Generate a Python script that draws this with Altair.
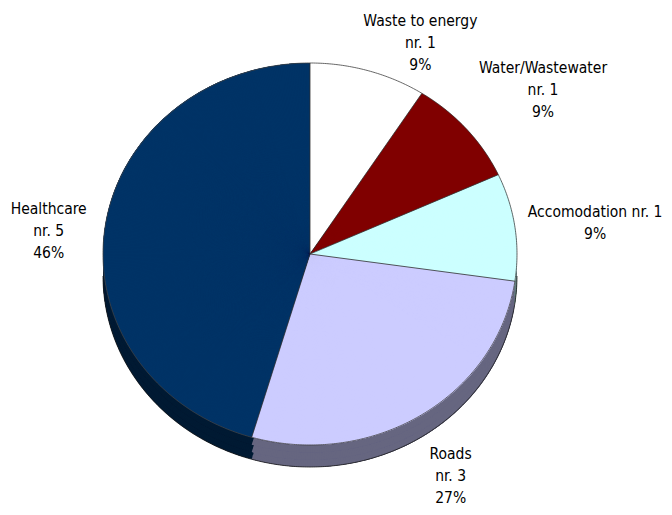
import altair as alt
import pandas as pd
import math

categories = ["Waste to energy", "Water/Wastewater", "Accomodation", "Roads", "Healthcare"]
counts = [1, 1, 1, 3, 5]
percents = ["9%", "9%", "9%", "27%", "46%"]
labels = [
    "Waste to energy\nnr. 1\n9%",
    "Water/Wastewater\nnr. 1\n9%",
    "Accomodation nr. 1\n9%",
    "Roads\nnr. 3\n27%",
    "Healthcare\nnr. 5\n46%",
]
top_colors = ["#FFFFFF", "#800000", "#CCFFFF", "#CCCCFF", "#003366"]
side_colors = ["#7F7F7F", "#400000", "#668080", "#666680", "#001A33"]

# label placement tweaks (pixels)
label_radius = [232, 262, 282, 262, 262]
label_dx = [45, 35, 6, -1, -2]
label_dy = [-10, -14, -2, -20, -8]

# ---- geometry of the tilted (elliptical) pie ----
CX, CY = 302, 246          # centre of top face, in plot pixels
RX, RY, DEPTH = 207, 191, 22
TWO_PI = 2 * math.pi
EPS = 0.03                 # overlap of the thin wedges to hide seams
total = sum(counts)


def screen_angle(t):
    if t >= TWO_PI - 1e-9:
        return TWO_PI
    a = math.atan2(RX * math.sin(t), RY * math.cos(t))
    if a < 0:
        a += TWO_PI
    return a


sub_rows, bound_rows = [], []
cum = 0
for i, (c, n) in enumerate(zip(categories, counts)):
    t0 = TWO_PI * cum / total
    t1 = TWO_PI * (cum + n) / total
    steps = max(2, int(round((t1 - t0) / (math.pi / 360))))
    end_angle = screen_angle(t1)
    for k in range(steps):
        ta = t0 + (t1 - t0) * k / steps
        tb = t0 + (t1 - t0) * (k + 1) / steps
        tm = (ta + tb) / 2
        a1 = min(screen_angle(tb) + EPS, end_angle)
        sub_rows.append({
            "cat": c, "a0": screen_angle(ta), "a1": a1,
            "r": math.hypot(RX * math.sin(tm), RY * math.cos(tm)),
            "ctop": top_colors[i], "cside": side_colors[i],
        })
    bound_rows.append({
        "x0": CX, "y0": CY,
        "x1": CX + RX * math.sin(t0), "y1": CY - RY * math.cos(t0),
    })
    cum += n

sub = pd.DataFrame(sub_rows)
bounds = pd.DataFrame(bound_rows)

N = 720
outline_top = pd.DataFrame({
    "k": list(range(N + 1)),
    "x": [CX + RX * math.sin(TWO_PI * k / N) for k in range(N + 1)],
    "y": [CY - RY * math.cos(TWO_PI * k / N) for k in range(N + 1)],
})
ks = [k for k in range(N + 1) if N / 4 <= k <= 3 * N / 4]
outline_side = pd.DataFrame({
    "k": ks,
    "x": [CX + RX * math.sin(TWO_PI * k / N) for k in ks],
    "y": [CY + DEPTH - RY * math.cos(TWO_PI * k / N) for k in ks],
})

theta_scale = alt.Scale(domain=[0, TWO_PI], range=[0, TWO_PI])
radius_scale = alt.Scale(type="linear", domain=[0, 400], range=[0, 400], zero=True)


def arcs(colcol, cy):
    return alt.Chart(sub).mark_arc(strokeWidth=0).encode(
        theta=alt.Theta("a0:Q", scale=theta_scale, stack=None),
        theta2="a1:Q",
        radius=alt.Radius("r:Q", scale=radius_scale),
        color=alt.Color(f"{colcol}:N", scale=None),
        x=alt.value(CX),
        y=alt.value(cy),
    )


side_layers = [arcs("cside", CY + off) for off in (DEPTH, DEPTH * 2 / 3, DEPTH / 3)]
side_line = alt.Chart(outline_side).mark_line(color="#1a1a1a", strokeWidth=0.8).encode(
    x=alt.X("x:Q", scale=None), y=alt.Y("y:Q", scale=None), order="k:Q"
)
top = arcs("ctop", CY)
top_line = alt.Chart(outline_top).mark_line(color="#404040", strokeWidth=0.8).encode(
    x=alt.X("x:Q", scale=None), y=alt.Y("y:Q", scale=None), order="k:Q"
)
rules = alt.Chart(bounds).mark_rule(color="#303030", strokeWidth=0.8).encode(
    x=alt.X("x0:Q", scale=None), y=alt.Y("y0:Q", scale=None),
    x2="x1:Q", y2="y1:Q",
)

lab = pd.DataFrame({
    "cat": categories, "n": counts, "idx": list(range(len(categories))),
    "label": labels, "lr": label_radius, "ldx": label_dx, "ldy": label_dy,
})
tscale = alt.Scale(domain=[0, 1], range=[0, TWO_PI])
text = alt.Chart(lab).transform_window(
    cum="sum(n)", sort=[alt.SortField("idx")], frame=[None, 0]
).transform_joinaggregate(
    total="sum(n)"
).transform_calculate(
    fm="(datum.cum - datum.n / 2) / datum.total",
).mark_text(
    lineBreak="\n", font="DejaVu Sans Condensed", fontSize=15.5, color="#000000",
    lineHeight=22, baseline="middle", align="center"
).encode(
    theta=alt.Theta("fm:Q", scale=tscale, stack=None),
    radius=alt.Radius("lr:Q", scale=None),
    xOffset=alt.XOffset("ldx:Q", scale=None),
    yOffset=alt.YOffset("ldy:Q", scale=None),
    text="label:N",
    x=alt.value(CX), y=alt.value(CY),
)

chart = alt.layer(*side_layers, side_line, top, top_line, rules, text).resolve_scale(
    theta="independent", radius="independent"
).properties(
    width=656, height=499, autosize="none", padding=0
).configure_view(stroke=None)

chart.save("out.html", embed_options={"renderer": "svg", "actions": False})
